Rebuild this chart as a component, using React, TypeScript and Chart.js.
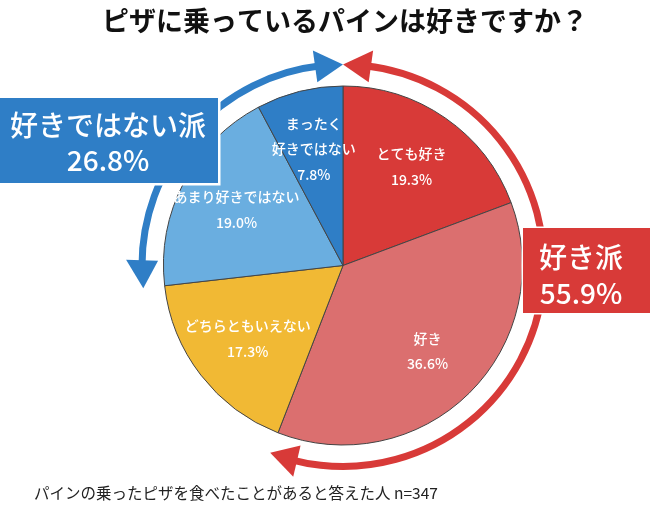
import React, { useEffect, useRef } from 'react';
import { Chart, registerables } from 'chart.js';

Chart.register(...registerables);

const title = 'ピザに乗っているパインは好きですか？';
const footnote = 'パインの乗ったピザを食べたことがあると答えた人 n=347';
const categories = ['とても好き', '好き', 'どちらともいえない', 'あまり好きではない', 'まったく\n好きではない'];
const values = [19.3, 36.6, 17.3, 19.0, 7.8];
const sliceColors = ['#d83a38', '#db6f6f', '#f1b934', '#6aaee0', '#2f7ec6'];
const groupNames = ['好き派', '好きではない派'];
const groupValues = [55.9, 26.8];
const groupColors = ['#d83a38', '#2f7ec6'];

const FONT = '"Noto Sans CJK JP", "Noto Sans", sans-serif';

function arrowHead(ctx: CanvasRenderingContext2D, cx: number, cy: number, r: number, a: number, dir: number, L: number, h: number) {
  const b = a - dir * (L / r);
  ctx.beginPath();
  ctx.moveTo(cx + r * Math.cos(a), cy + r * Math.sin(a));
  ctx.lineTo(cx + (r - h) * Math.cos(b), cy + (r - h) * Math.sin(b));
  ctx.lineTo(cx + (r + h) * Math.cos(b), cy + (r + h) * Math.sin(b));
  ctx.closePath();
  ctx.fill();
}

function drawArcArrow(ctx: CanvasRenderingContext2D, cx: number, cy: number, r: number, a0: number, a1: number, color: string) {
  const L = 28;
  const h = 16;
  const da = L / r;
  ctx.save();
  ctx.strokeStyle = color;
  ctx.fillStyle = color;
  ctx.lineWidth = 7;
  ctx.beginPath();
  ctx.arc(cx, cy, r, a0 + da * 0.8, a1 - da * 0.8);
  ctx.stroke();
  arrowHead(ctx, cx, cy, r, a0, -1, L, h);
  arrowHead(ctx, cx, cy, r, a1, 1, L, h);
  ctx.restore();
}

const overlayPlugin = {
  id: 'overlay',
  afterDraw(chart: any) {
    const ctx: CanvasRenderingContext2D = chart.ctx;
    const meta = chart.getDatasetMeta(0);
    const arcs = meta.data;
    const cx = arcs[0].x;
    const cy = arcs[0].y;
    const R = arcs[0].outerRadius;

    // slice labels
    ctx.save();
    ctx.fillStyle = '#ffffff';
    ctx.font = `500 14px ${FONT}`;
    ctx.textAlign = 'center';
    ctx.textBaseline = 'middle';
    arcs.forEach((arc: any, i: number) => {
      const mid = (arc.startAngle + arc.endAngle) / 2;
      const d = R * 0.67;
      const x = cx + d * Math.cos(mid);
      const y = cy + d * Math.sin(mid);
      const lines = categories[i].split('\n').concat([values[i].toFixed(1) + '%']);
      const lh = 25.5;
      const y0 = y - ((lines.length - 1) * lh) / 2;
      lines.forEach((t, k) => ctx.fillText(t, x, y0 + k * lh));
    });
    ctx.restore();

    // arrows
    const rArc = 201;
    drawArcArrow(ctx, cx, cy, rArc, arcs[0].startAngle, arcs[1].endAngle, groupColors[0]);
    drawArcArrow(ctx, cx, cy, rArc, arcs[3].startAngle, arcs[4].endAngle, groupColors[1]);

    // group boxes
    ctx.save();
    ctx.strokeStyle = '#ffffff';
    ctx.lineWidth = 5;
    ctx.fillStyle = groupColors[1];
    ctx.strokeRect(-10, 98, 228, 85);
    ctx.fillRect(-10, 98, 228, 85);
    ctx.lineWidth = 3;
    ctx.fillStyle = groupColors[0];
    ctx.strokeRect(523, 228, 140, 85);
    ctx.fillRect(523, 228, 140, 85);

    ctx.fillStyle = '#ffffff';
    ctx.textAlign = 'center';
    ctx.textBaseline = 'middle';
    ctx.font = `500 28px ${FONT}`;
    ctx.fillText(groupNames[1], 108, 125);
    ctx.fillText(groupValues[1].toFixed(1) + '%', 108, 160);
    ctx.fillText(groupNames[0], 581, 257);
    ctx.fillText(groupValues[0].toFixed(1) + '%', 581, 293);
    ctx.restore();

    // title & footnote
    ctx.save();
    ctx.fillStyle = '#111111';
    ctx.textAlign = 'center';
    ctx.textBaseline = 'middle';
    ctx.font = `bold 27px ${FONT}`;
    ctx.fillText(title, 345, 21);
    ctx.textAlign = 'left';
    ctx.fillStyle = '#222222';
    ctx.font = `15.5px ${FONT}`;
    ctx.fillText(footnote, 34, 493);
    ctx.restore();
  },
};

export default function App() {
  const ref = useRef<HTMLCanvasElement | null>(null);
  useEffect(() => {
    document.body.style.margin = '0';
    const canvas = ref.current!;
    const chart = new Chart(canvas, {
      type: 'pie',
      data: {
        labels: categories,
        datasets: [
          {
            data: values,
            backgroundColor: sliceColors,
            borderColor: '#444444',
            borderWidth: 1,
          },
        ],
      },
      options: {
        responsive: false,
        animation: false,
        layout: { padding: { left: 163, right: 127, top: 85, bottom: 59 } },
        plugins: {
          legend: { display: false },
          tooltip: { enabled: false },
          title: { display: false },
        },
      },
      plugins: [overlayPlugin],
    });
    return () => chart.destroy();
  }, []);
  return (
    <div style={{ width: 650, height: 505, background: '#ffffff' }}>
      <canvas ref={ref} width={650} height={505} style={{ display: 'block' }} />
    </div>
  );
}
